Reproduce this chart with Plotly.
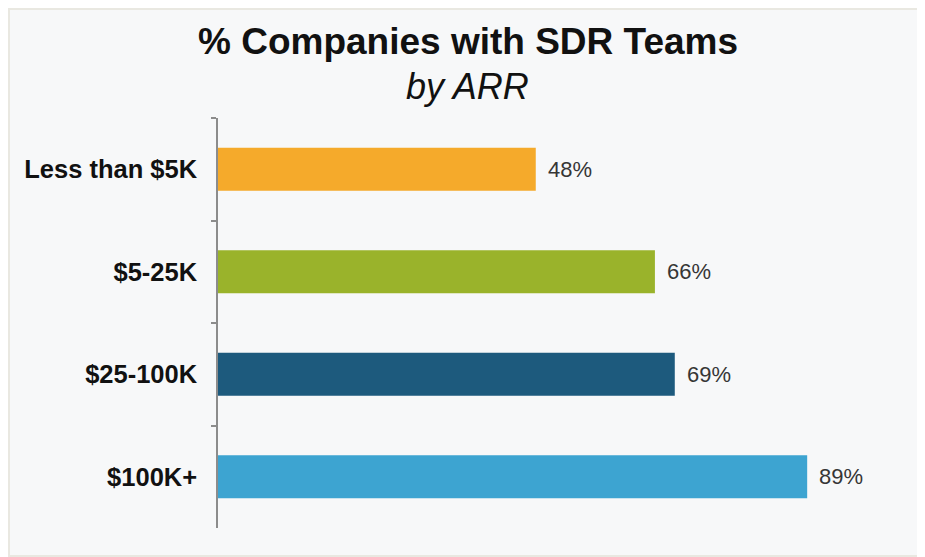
import plotly.graph_objects as go

categories = ["Less than $5K", "$5-25K", "$25-100K", "$100K+"]
values = [48, 66, 69, 89]
colors = ["#F5AA2B", "#9AB32B", "#1D5A7D", "#3DA4D1"]
value_labels = [f"{v}%" for v in values]
title_text = "% Companies with SDR Teams"
subtitle_text = "by ARR"

FONT = "Liberation Sans, Arial"

fig = go.Figure()
fig.add_trace(go.Bar(
    x=values, y=categories, orientation="h",
    marker=dict(color=colors, line=dict(width=0)),
    hoverinfo="skip", showlegend=False,
))

for v, c, t in zip(values, categories, value_labels):
    fig.add_annotation(x=v, y=c, text=t, showarrow=False, xanchor="left",
                       xshift=10, font=dict(family=FONT, size=22, color="#363636"))

fig.add_annotation(xref="paper", yref="paper", x=0.3776, y=1.186, showarrow=False,
                   xanchor="center", yanchor="middle", text=f"<b>{title_text}</b>",
                   font=dict(family=FONT, size=37, color="#111111"))
fig.add_annotation(xref="paper", yref="paper", x=0.3776, y=1.078, showarrow=False,
                   xanchor="center", yanchor="middle", text=f"<i>{subtitle_text}</i>",
                   font=dict(family=FONT, size=36, color="#111111"))

fig.update_layout(
    width=917, height=549,
    margin=dict(l=210, r=45, t=110, b=29),
    paper_bgcolor="#F7F8F9", plot_bgcolor="#F7F8F9",
    bargap=0.58,
    xaxis=dict(range=[0, 100], visible=False, fixedrange=True),
    yaxis=dict(
        autorange="reversed", showline=True, linecolor="#8C8C8C", linewidth=1.5,
        ticks="outside", tickson="boundaries", ticklen=5, tickcolor="#8C8C8C", tickwidth=1.5,
        ticklabelstandoff=14, showgrid=False, zeroline=False,
        tickfont=dict(family=FONT, size=25.5, color="#111111", weight="bold"),
    ),
)
# outer frame
fig.add_shape(type="rect", xref="paper", yref="paper",
              x0=-210/662, x1=1 + 45/662, y0=-29/410, y1=1 + 110/410,
              line=dict(color="#E9E8E1", width=4), layer="below")

fig.write_html("out.html")
